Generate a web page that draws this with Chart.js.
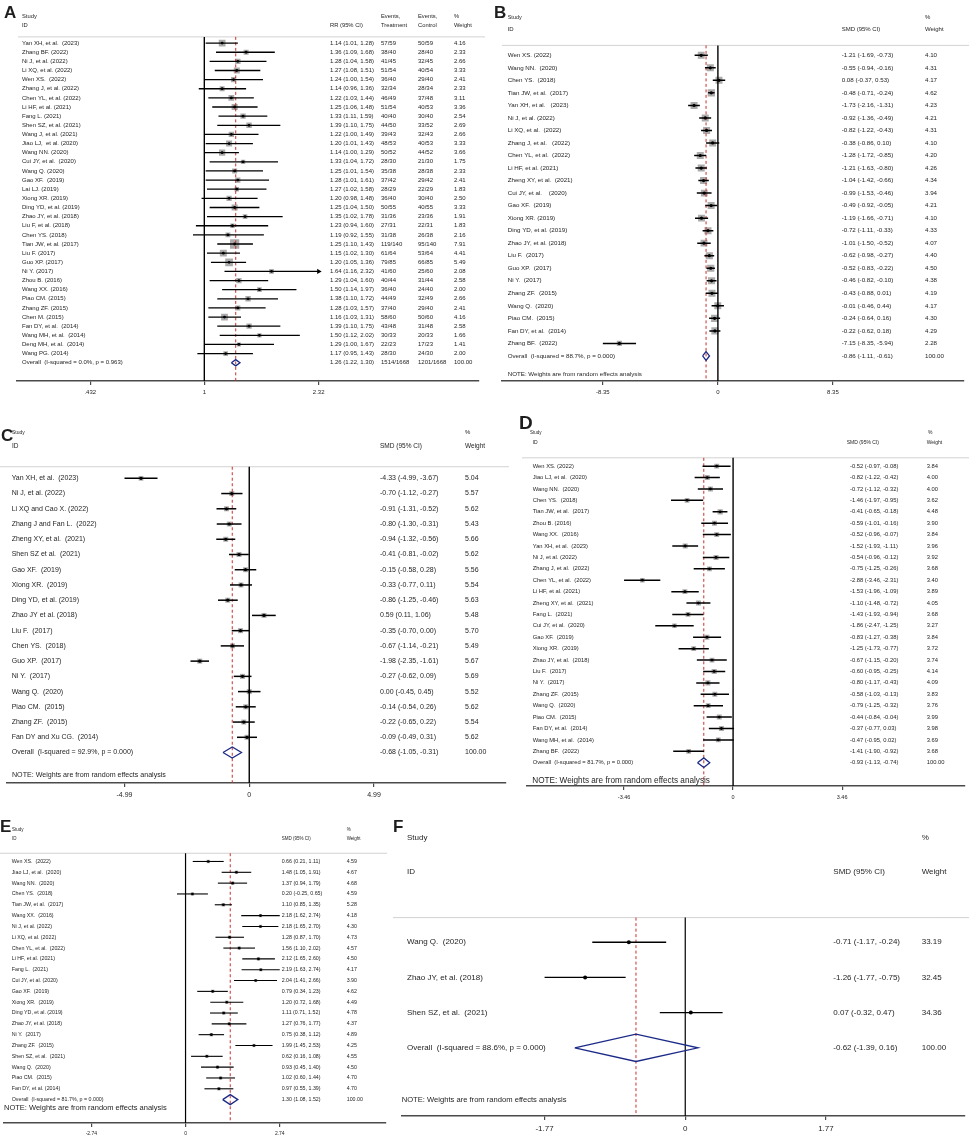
<!DOCTYPE html>
<html>
<head>
<meta charset="utf-8">
<script src="https://cdn.jsdelivr.net/npm/chart.js@4.4.1/dist/chart.umd.min.js"></script>
<style>
  body { margin: 0; background: #fff; }
  #page { position: relative; width: 969px; height: 1135px; overflow: hidden; background: #fff; }
  .panel { position: absolute; }
</style>
</head>
<body>
<div id="page"></div>
<script>
// ---- A: RR, fixed effects
const aStudies = ['Yan XH, et al.  (2023)', 'Zhang BF. (2022)', 'Ni J, et al. (2022)', 'Li XQ, et al. (2022)', 'Wen XS.  (2022)',
  'Zhang J, et al. (2022)', 'Chen YL, et al. (2022)', 'Li HF, et al. (2021)', 'Fang L. (2021)', 'Shen SZ, et al. (2021)',
  'Wang J, et al. (2021)', 'Jiao LJ,  et al. (2020)', 'Wang NN. (2020)', 'Cui JY, et al.  (2020)', 'Wang Q. (2020)',
  'Gao XF.  (2019)', 'Lai LJ. (2019)', 'Xiong XR. (2019)', 'Ding YD, et al. (2019)', 'Zhao JY, et al. (2018)',
  'Liu F, et al. (2018)', 'Chen YS. (2018)', 'Tian JW, et al. (2017)', 'Liu F. (2017)', 'Guo XP. (2017)',
  'Ni Y. (2017)', 'Zhou B. (2016)', 'Wang XX. (2016)', 'Piao CM. (2015)', 'Zhang ZF. (2015)',
  'Chen M. (2015)', 'Fan DY, et al.  (2014)', 'Wang MH, et al.  (2014)', 'Deng MH, et al.  (2014)', 'Wang PG. (2014)'];
const aRR = [1.14, 1.36, 1.28, 1.27, 1.24, 1.14, 1.22, 1.25, 1.33, 1.39, 1.22, 1.20, 1.14, 1.33, 1.25, 1.28, 1.27, 1.20,
  1.25, 1.35, 1.23, 1.19, 1.25, 1.15, 1.20, 1.64, 1.29, 1.50, 1.38, 1.28, 1.16, 1.39, 1.50, 1.29, 1.17];
const aLow = [1.01, 1.09, 1.04, 1.08, 1.00, 0.96, 1.03, 1.06, 1.11, 1.10, 1.00, 1.01, 1.00, 1.04, 1.01, 1.01, 1.02, 0.98,
  1.04, 1.02, 0.94, 0.92, 1.10, 1.02, 1.05, 1.16, 1.04, 1.14, 1.10, 1.03, 1.03, 1.10, 1.12, 1.00, 0.95];
const aHigh = [1.28, 1.68, 1.58, 1.51, 1.54, 1.36, 1.44, 1.48, 1.59, 1.75, 1.49, 1.43, 1.29, 1.72, 1.54, 1.61, 1.58, 1.48,
  1.50, 1.78, 1.60, 1.55, 1.43, 1.30, 1.36, 2.32, 1.60, 1.97, 1.72, 1.57, 1.31, 1.75, 2.02, 1.67, 1.43];
const aWeight = [4.16, 2.33, 2.66, 3.33, 2.41, 2.33, 3.11, 3.36, 2.54, 2.69, 2.66, 3.33, 3.66, 1.75, 2.33, 2.41, 1.83, 2.50,
  3.33, 1.91, 1.83, 2.16, 7.91, 4.41, 5.49, 2.08, 2.58, 2.00, 2.66, 2.41, 4.16, 2.58, 1.66, 1.41, 2.00];
const aEventsT = ['57/59', '38/40', '41/45', '51/54', '36/40', '32/34', '46/49', '51/54', '40/40', '44/50', '39/43', '48/53',
  '50/52', '28/30', '35/38', '37/42', '28/29', '36/40', '50/55', '31/36', '27/31', '31/38', '119/140', '61/64', '79/85',
  '41/60', '40/44', '36/40', '44/49', '37/40', '58/60', '43/48', '30/33', '22/23', '28/30'];
const aEventsC = ['50/59', '28/40', '32/45', '40/54', '29/40', '28/34', '37/48', '40/53', '30/40', '33/52', '32/43', '40/53',
  '44/52', '21/30', '28/38', '29/42', '22/29', '30/40', '40/55', '23/36', '22/31', '26/38', '95/140', '53/64', '66/85',
  '25/60', '31/44', '24/40', '32/49', '29/40', '50/60', '31/48', '20/33', '17/23', '24/30'];
const aOverall = [1.26, 1.22, 1.30];
const aOverallEvents = ['1514/1668', '1201/1668'];
const aOverallLabel = 'Overall  (I-squared = 0.0%, p = 0.963)';
const aTicks = [0.432, 1, 2.32];
const aTickLabels = ['.432', '1', '2.32'];

// ---- B
const bStudies = ['Wen XS. (2022)', 'Wang NN.  (2020)', 'Chen YS.  (2018)', 'Tian JW, et al.  (2017)', 'Yan XH, et al.   (2023)',
  'Ni J, et al. (2022)', 'Li XQ, et al.  (2022)', 'Zhang J, et al.   (2022)', 'Chen YL, et al.  (2022)', 'Li HF, et al. (2021)',
  'Zheng XY, et al.  (2021)', 'Cui JY, et al.    (2020)', 'Gao XF.  (2019)', 'Xiong XR. (2019)', 'Ding YD, et al. (2019)',
  'Zhao JY, et al. (2018)', 'Liu F.  (2017)', 'Guo XP.  (2017)', 'Ni Y.  (2017)', 'Zhang ZF.  (2015)',
  'Wang Q.  (2020)', 'Piao CM.  (2015)', 'Fan DY, et al.  (2014)', 'Zhang BF.  (2022)'];
const bSMD = [-1.21, -0.55, 0.08, -0.48, -1.73, -0.92, -0.82, -0.38, -1.28, -1.21, -1.04, -0.99, -0.49, -1.19, -0.72, -1.01,
  -0.62, -0.52, -0.46, -0.43, -0.01, -0.24, -0.22, -7.15];
const bLow = [-1.69, -0.94, -0.37, -0.71, -2.16, -1.36, -1.22, -0.86, -1.72, -1.63, -1.42, -1.53, -0.92, -1.66, -1.11, -1.50,
  -0.98, -0.83, -0.82, -0.88, -0.46, -0.64, -0.62, -8.35];
const bHigh = [-0.73, -0.16, 0.53, -0.24, -1.31, -0.49, -0.43, 0.10, -0.85, -0.80, -0.66, -0.46, -0.05, -0.71, -0.33, -0.52,
  -0.27, -0.22, -0.10, 0.01, 0.44, 0.16, 0.18, -5.94];
const bWeight = [4.10, 4.31, 4.17, 4.62, 4.23, 4.21, 4.31, 4.10, 4.20, 4.26, 4.34, 3.94, 4.21, 4.10, 4.33, 4.07, 4.40, 4.50,
  4.38, 4.19, 4.17, 4.30, 4.29, 2.28];
const bOverall = [-0.86, -1.11, -0.61];
const bOverallLabel = 'Overall  (I-squared = 88.7%, p = 0.000)';
const bTicks = [-8.35, 0, 8.35];
const bTickLabels = ['-8.35', '0', '8.35'];

// ---- C
const cStudies = ['Yan XH, et al.  (2023)', 'Ni J, et al. (2022)', 'Li XQ and Cao X. (2022)', 'Zhang J and Fan L.  (2022)',
  'Zheng XY, et al.  (2021)', 'Shen SZ et al.  (2021)', 'Gao XF.  (2019)', 'Xiong XR.  (2019)', 'Ding YD, et al. (2019)',
  'Zhao JY et al. (2018)', 'Liu F.  (2017)', 'Chen YS.  (2018)', 'Guo XP.  (2017)', 'Ni Y.  (2017)', 'Wang Q.  (2020)',
  'Piao CM.  (2015)', 'Zhang ZF.  (2015)', 'Fan DY and Xu CG.  (2014)'];
const cSMD = [-4.33, -0.70, -0.91, -0.80, -0.94, -0.41, -0.15, -0.33, -0.86, 0.59, -0.35, -0.67, -1.98, -0.27, 0.00, -0.14, -0.22, -0.09];
const cLow = [-4.99, -1.12, -1.31, -1.30, -1.32, -0.81, -0.58, -0.77, -1.25, 0.11, -0.70, -1.14, -2.35, -0.62, -0.45, -0.54, -0.65, -0.49];
const cHigh = [-3.67, -0.27, -0.52, -0.31, -0.56, -0.02, 0.28, 0.11, -0.46, 1.06, 0.00, -0.21, -1.61, 0.09, 0.45, 0.26, 0.22, 0.31];
const cWeight = [5.04, 5.57, 5.62, 5.43, 5.66, 5.62, 5.56, 5.54, 5.63, 5.48, 5.70, 5.49, 5.67, 5.69, 5.52, 5.62, 5.54, 5.62];
const cOverall = [-0.68, -1.05, -0.31];
const cOverallLabel = 'Overall  (I-squared = 92.9%, p = 0.000)';
const cTicks = [-4.99, 0, 4.99];
const cTickLabels = ['-4.99', '0', '4.99'];

// ---- D
const dStudies = ['Wen XS. (2022)', 'Jiao LJ, et al.  (2020)', 'Wang NN.  (2020)', 'Chen YS.  (2018)', 'Tian JW, et al.  (2017)',
  'Zhou B. (2016)', 'Wang XX.  (2016)', 'Yan XH, et al.  (2023)', 'Ni J, et al. (2022)', 'Zhang J, et al.  (2022)',
  'Chen YL, et al.  (2022)', 'Li HF, et al. (2021)', 'Zheng XY, et al.  (2021)', 'Fang L.  (2021)', 'Cui JY, et al.  (2020)',
  'Gao XF.  (2019)', 'Xiong XR.  (2019)', 'Zhao JY, et al.  (2018)', 'Liu F.  (2017)', 'Ni Y.  (2017)',
  'Zhang ZF.  (2015)', 'Wang Q.  (2020)', 'Piao CM.  (2015)', 'Fan DY, et al.  (2014)', 'Wang MH, et al.  (2014)', 'Zhang BF.  (2022)'];
const dSMD = [-0.52, -0.82, -0.72, -1.46, -0.41, -0.59, -0.52, -1.52, -0.54, -0.75, -2.88, -1.53, -1.10, -1.43, -1.86, -0.83,
  -1.25, -0.67, -0.60, -0.80, -0.58, -0.79, -0.44, -0.37, -0.47, -1.41];
const dLow = [-0.97, -1.22, -1.12, -1.97, -0.65, -1.01, -0.96, -1.93, -0.96, -1.25, -3.46, -1.96, -1.48, -1.93, -2.47, -1.27,
  -1.73, -1.15, -0.95, -1.17, -1.03, -1.25, -0.84, -0.77, -0.95, -1.90];
const dHigh = [-0.08, -0.42, -0.32, -0.95, -0.18, -0.16, -0.07, -1.11, -0.12, -0.26, -2.31, -1.09, -0.72, -0.94, -1.25, -0.38,
  -0.77, -0.20, -0.25, -0.43, -0.13, -0.32, -0.04, 0.03, 0.02, -0.92];
const dWeight = [3.84, 4.00, 4.00, 3.62, 4.48, 3.90, 3.84, 3.96, 3.92, 3.68, 3.40, 3.89, 4.05, 3.68, 3.27, 3.84, 3.72, 3.74,
  4.14, 4.09, 3.83, 3.76, 3.99, 3.98, 3.69, 3.68];
const dOverall = [-0.93, -1.13, -0.74];
const dOverallLabel = 'Overall  (I-squared = 81.7%, p = 0.000)';
const dTicks = [-3.46, 0, 3.46];
const dTickLabels = ['-3.46', '0', '3.46'];

// ---- E
const eStudies = ['Wen XS.  (2022)', 'Jiao LJ, et al.  (2020)', 'Wang NN.  (2020)', 'Chen YS.  (2018)', 'Tian JW, et al.  (2017)',
  'Wang XX.  (2016)', 'Ni J, et al. (2022)', 'Li XQ, et al. (2022)', 'Chen YL, et al.  (2022)', 'Li HF, et al. (2021)',
  'Fang L.  (2021)', 'Cui JY, et al. (2020)', 'Gao XF.  (2019)', 'Xiong XR.  (2019)', 'Ding YD, et al. (2019)',
  'Zhao JY, et al. (2018)', 'Ni Y.  (2017)', 'Zhang ZF.  (2015)', 'Shen SZ, et al.  (2021)', 'Wang Q.  (2020)',
  'Piao CM.  (2015)', 'Fan DY, et al. (2014)'];
const eSMD = [0.66, 1.48, 1.37, 0.20, 1.10, 2.18, 2.18, 1.28, 1.56, 2.12, 2.19, 2.04, 0.79, 1.20, 1.11, 1.27, 0.75, 1.99, 0.62, 0.93, 1.02, 0.97];
const eLow = [0.21, 1.05, 0.94, -0.25, 0.85, 1.62, 1.65, 0.87, 1.10, 1.65, 1.63, 1.41, 0.34, 0.72, 0.71, 0.76, 0.38, 1.45, 0.16, 0.45, 0.60, 0.55];
const eHigh = [1.11, 1.91, 1.79, 0.65, 1.35, 2.74, 2.70, 1.70, 2.02, 2.60, 2.74, 2.66, 1.23, 1.68, 1.52, 1.77, 1.12, 2.53, 1.08, 1.40, 1.44, 1.39];
const eWeight = [4.59, 4.67, 4.68, 4.59, 5.28, 4.18, 4.30, 4.73, 4.57, 4.50, 4.17, 3.90, 4.62, 4.49, 4.78, 4.37, 4.89, 4.25, 4.55, 4.50, 4.70, 4.70];
const eOverall = [1.30, 1.08, 1.52];
const eOverallLabel = 'Overall  (I-squared = 81.7%, p = 0.000)';
const eTicks = [-2.74, 0, 2.74];
const eTickLabels = ['-2.74', '0', '2.74'];

// ---- F
const fStudies = ['Wang Q.  (2020)', 'Zhao JY, et al. (2018)', 'Shen SZ, et al.  (2021)'];
const fSMD = [-0.71, -1.26, 0.07];
const fLow = [-1.17, -1.77, -0.32];
const fHigh = [-0.24, -0.75, 0.47];
const fWeight = [33.19, 32.45, 34.36];
const fOverall = [-0.62, -1.39, 0.16];
const fOverallLabel = 'Overall  (I-squared = 88.6%, p = 0.000)';
const fTicks = [-1.77, 0, 1.77];
const fTickLabels = ['-1.77', '0', '1.77'];

const NOTE = 'NOTE: Weights are from random effects analysis';
const FONT = '"Liberation Sans", Arial, sans-serif';
const INK = '#1e1e1e', RED = '#c9302c', NAVY = '#1c2a87', BOX = '#ababab';

function ciText(e, l, h) {
  return e.toFixed(2) + ' (' + l.toFixed(2) + ', ' + h.toFixed(2) + ')';
}

function forest(p) {
  const n = p.est.length;
  const holder = document.createElement('div');
  holder.className = 'panel';
  holder.style.cssText = 'left:' + p.left + 'px;top:' + p.top + 'px;width:' + p.w + 'px;height:' + p.h + 'px';
  const canvas = document.createElement('canvas');
  holder.appendChild(canvas);
  document.getElementById('page').appendChild(holder);

  const rows = p.est.map((v, i) => ({x: v, y: i}));
  const ds = [];
  // null line and pooled estimate line
  ds.push({data: [{x: p.nullAt, y: p.sepRow}, {x: p.nullAt, y: p.yMax}], showLine: true,
    borderColor: '#000', borderWidth: p.nullW, pointRadius: 0, order: 6});
  ds.push({data: [{x: p.overall[0], y: p.sepRow}, {x: p.overall[0], y: p.yMax}], showLine: true,
    borderColor: RED, borderWidth: 1, borderDash: [3, 2.5], pointRadius: 0, order: 5});
  if (p.boxK) {
    ds.push({data: rows, pointStyle: 'rect', pointRadius: p.weight.map(w => p.boxK * Math.sqrt(w) / Math.SQRT2),
      pointBackgroundColor: BOX, pointBorderWidth: 0, order: 7});
  }
  p.est.forEach((v, i) => {
    ds.push({data: [{x: p.low[i], y: i}, {x: p.high[i], y: i}], showLine: true,
      borderColor: '#000', borderWidth: p.ciW, pointRadius: 0, order: 3});
  });
  ds.push({data: rows, pointStyle: 'circle', pointRadius: p.dotR, pointBackgroundColor: '#000',
    pointBorderWidth: 0, order: 1});
  (p.arrows || []).forEach(i => {
    ds.push({data: [{x: p.high[i], y: i}], pointStyle: 'triangle', pointRotation: 90, pointRadius: 3,
      pointBackgroundColor: '#000', pointBorderWidth: 0, order: 1});
  });
  const [oe, ol, oh] = p.overall;
  const dh = p.diamondH;
  ds.push({data: [{x: ol, y: n}, {x: oe, y: n - dh}, {x: oh, y: n}, {x: oe, y: n + dh}, {x: ol, y: n}],
    showLine: true, borderColor: NAVY, borderWidth: 1.3, borderJoinStyle: 'miter', pointRadius: 0, order: 2});

  const textLayer = {
    id: 'forestText',
    beforeDatasetsDraw(chart) {
      const ctx = chart.ctx;
      const y = chart.scales.y.getPixelForValue(p.sepRow);
      ctx.save();
      ctx.strokeStyle = '#d2d2d2';
      ctx.lineWidth = 1;
      ctx.beginPath();
      ctx.moveTo(p.sep[0], y);
      ctx.lineTo(p.sep[1], y);
      ctx.stroke();
      ctx.restore();
    },
    afterDraw(chart) {
      const ctx = chart.ctx, ys = chart.scales.y;
      ctx.save();
      ctx.fillStyle = INK;
      ctx.textAlign = 'left';
      ctx.textBaseline = 'alphabetic';
      ctx.font = 'bold ' + p.letter[3] + 'px ' + FONT;
      ctx.fillText(p.letter[0], p.letter[1], p.letter[2]);
      ctx.textBaseline = 'middle';
      p.headers.forEach(h => {
        ctx.font = h[3] + 'px ' + FONT;
        ctx.fillText(h[0], h[1], ys.getPixelForValue(h[2]));
      });
      ctx.font = p.fs + 'px ' + FONT;
      p.columns.forEach(col => {
        col[1].forEach((t, i) => ctx.fillText(t, col[0], ys.getPixelForValue(i)));
      });
      if (p.note) {
        ctx.font = p.note[3] + 'px ' + FONT;
        ctx.fillText(p.note[0], p.note[1], ys.getPixelForValue(p.note[2]));
      }
      ctx.restore();
    }
  };

  new Chart(canvas, {
    type: 'scatter',
    data: {datasets: ds},
    options: {
      responsive: true,
      maintainAspectRatio: false,
      animation: false,
      events: [],
      layout: {padding: {left: p.plotL, right: p.w - p.plotR, top: 0, bottom: 0}},
      plugins: {legend: {display: false}, tooltip: {enabled: false}},
      scales: {
        x: {
          type: p.xType || 'linear',
          min: p.xMin, max: p.xMax, bounds: 'data',
          border: {display: true, color: '#4a4a4a', width: 1.6},
          grid: {drawOnChartArea: false, drawTicks: true, tickLength: 4, color: '#4a4a4a', lineWidth: 1.2},
          ticks: {autoSkip: false, maxRotation: 0, padding: 4, color: INK,
            font: {family: FONT, size: p.tickFs}, callback: (v, i) => p.tickLabels[i]},
          afterBuildTicks: s => { s.ticks = p.ticks.map(v => ({value: v})); },
          afterFit: s => { s.height = 24; }
        },
        y: {type: 'linear', reverse: true, display: false, min: p.yMin, max: p.yMax, bounds: 'data'}
      }
    },
    plugins: [textLayer]
  });
}

function fmtW(ws) { return ws.map(w => w.toFixed(2)).concat(['100.00']); }
function fmtCI(est, low, high, ov) { return est.map((v, i) => ciText(v, low[i], high[i])).concat([ciText(ov[0], ov[1], ov[2])]); }

forest({
  left: 0, top: 0, w: 485, h: 405, plotL: 17, plotR: 485,
  xType: 'logarithmic', xMin: 0.2519, xMax: 7.52, yMin: -4, yMax: 37, sepRow: -0.68, sep: [18, 485],
  est: aRR, low: aLow, high: aHigh, weight: aWeight, overall: aOverall, nullAt: 1, arrows: [25],
  ticks: aTicks, tickLabels: aTickLabels, tickFs: 6,
  nullW: 1.4, boxK: 3.3, dotR: 1.4, ciW: 1.3, diamondH: 0.34, fs: 6,
  letter: ['A', 4, 17.5, 17],
  headers: [['Study', 22, -2.9, 5.8], ['ID', 22, -1.93, 5.8], ['RR (95% CI)', 330, -1.93, 5.8],
    ['Events,', 381, -2.9, 5.8], ['Treatment', 381, -1.93, 5.8], ['Events,', 418, -2.9, 5.8],
    ['Control', 418, -1.93, 5.8], ['%', 454, -2.9, 5.8], ['Weight', 454, -1.93, 5.8]],
  columns: [[22, aStudies.concat([aOverallLabel])], [330, fmtCI(aRR, aLow, aHigh, aOverall)],
    [381, aEventsT.concat([aOverallEvents[0]])], [418, aEventsC.concat([aOverallEvents[1]])], [454, fmtW(aWeight)]],
  note: null
});

forest({
  left: 485, top: 0, w: 484, h: 405, plotL: 17, plotR: 484,
  xMin: -15.67, xMax: 17.85, yMin: -4, yMax: 26, sepRow: -0.79, sep: [17, 484],
  est: bSMD, low: bLow, high: bHigh, weight: bWeight, overall: bOverall, nullAt: 0,
  ticks: bTicks, tickLabels: bTickLabels, tickFs: 6,
  nullW: 1.4, boxK: 3.4, dotR: 1.6, ciW: 1.5, diamondH: 0.35, fs: 6.2,
  letter: ['B', 9, 17.5, 17],
  headers: [['Study', 22.7, -3.0, 5.5], ['ID', 22.7, -2.05, 6], ['SMD (95% CI)', 356.7, -2.05, 6],
    ['%', 440, -3.0, 6], ['Weight', 440, -2.05, 6]],
  columns: [[22.7, bStudies.concat([bOverallLabel])], [356.7, fmtCI(bSMD, bLow, bHigh, bOverall)], [440, fmtW(bWeight)]],
  note: [NOTE, 22.7, 25.45, 6.2]
});

forest({
  left: 0, top: 405, w: 510, h: 402, plotL: 7, plotR: 509,
  xMin: -9.69, xMax: 10.27, yMin: -4.55, yMax: 20, sepRow: -0.76, sep: [0, 509],
  est: cSMD, low: cLow, high: cHigh, weight: cWeight, overall: cOverall, nullAt: 0,
  ticks: cTicks, tickLabels: cTickLabels, tickFs: 7,
  nullW: 1.4, boxK: 2.1, dotR: 1.6, ciW: 1.5, diamondH: 0.36, fs: 7,
  letter: ['C', 1, 35.5, 17],
  headers: [['Study', 12, -2.99, 5], ['ID', 12, -2.08, 6.5], ['SMD (95% CI)', 380, -2.08, 6.5],
    ['%', 465, -2.99, 6], ['Weight', 465, -2.08, 6.5]],
  columns: [[11.7, cStudies.concat([cOverallLabel])], [380, fmtCI(cSMD, cLow, cHigh, cOverall)], [465, fmtW(cWeight)]],
  note: [NOTE, 12, 19.5, 7.1]
});

forest({
  left: 480, top: 405, w: 489, h: 405, plotL: 46.7, plotR: 489,
  xMin: -6.55, xMax: 7.36, yMin: -5.01, yMax: 28.04, sepRow: -0.73, sep: [42, 489],
  est: dSMD, low: dLow, high: dHigh, weight: dWeight, overall: dOverall, nullAt: 0,
  ticks: dTicks, tickLabels: dTickLabels, tickFs: 5.5,
  nullW: 1.4, boxK: 2.5, dotR: 1.4, ciW: 1.5, diamondH: 0.42, fs: 5.8,
  letter: ['D', 39, 24, 19],
  headers: [['Study', 50, -2.92, 4.5], ['ID', 52.7, -2.06, 5], ['SMD (95% CI)', 366.7, -2.06, 5],
    ['%', 448, -2.92, 5], ['Weight', 446.7, -2.06, 5]],
  columns: [[52.7, dStudies.concat([dOverallLabel])], [370, fmtCI(dSMD, dLow, dHigh, dOverall)], [446.7, fmtW(dWeight)]],
  note: [NOTE, 52.3, 27.54, 8.2]
});

forest({
  left: 0, top: 800, w: 390, h: 347, plotL: 2, plotR: 387,
  xMin: -5.28, xMax: 5.83, yMin: -5.31, yMax: 24.16, sepRow: -0.76, sep: [0, 387],
  est: eSMD, low: eLow, high: eHigh, weight: eWeight, overall: eOverall, nullAt: 0,
  ticks: eTicks, tickLabels: eTickLabels, tickFs: 5,
  nullW: 1.2, boxK: 1.55, dotR: 1.3, ciW: 1.1, diamondH: 0.46, fs: 5.3,
  letter: ['E', 0, 32, 17],
  headers: [['Study', 12, -2.97, 4.5], ['ID', 12, -2.06, 4.5], ['SMD (95% CI)', 281.7, -2.06, 4.5],
    ['%', 346.7, -2.97, 4.5], ['Weight', 346.7, -2.06, 4.5]],
  columns: [[11.7, eStudies.concat([eOverallLabel])], [281.7, fmtCI(eSMD, eLow, eHigh, eOverall)], [346.7, fmtW(eWeight)]],
  note: [NOTE, 4, 22.79, 7.5]
});

forest({
  left: 390, top: 800, w: 579, h: 340, plotL: 12, plotR: 579,
  xMin: -3.564, xMax: 3.52, yMin: -3.93, yMax: 4.94, sepRow: -0.70, sep: [3, 579],
  est: fSMD, low: fLow, high: fHigh, weight: fWeight, overall: fOverall, nullAt: 0,
  ticks: fTicks, tickLabels: fTickLabels, tickFs: 8,
  nullW: 1.2, boxK: 0, dotR: 2, ciW: 1.3, diamondH: 0.39, fs: 8,
  letter: ['F', 3, 32, 17],
  headers: [['Study', 17, -2.965, 8], ['ID', 17, -1.99, 8], ['SMD (95% CI)', 443.3, -1.99, 8],
    ['%', 531.7, -2.97, 8], ['Weight', 531.7, -1.99, 8]],
  columns: [[17, fStudies.concat([fOverallLabel])], [443.3, fmtCI(fSMD, fLow, fHigh, fOverall)], [531.7, fmtW(fWeight)]],
  note: [NOTE, 11.7, 4.47, 7.6]
});
</script>
</body>
</html>
